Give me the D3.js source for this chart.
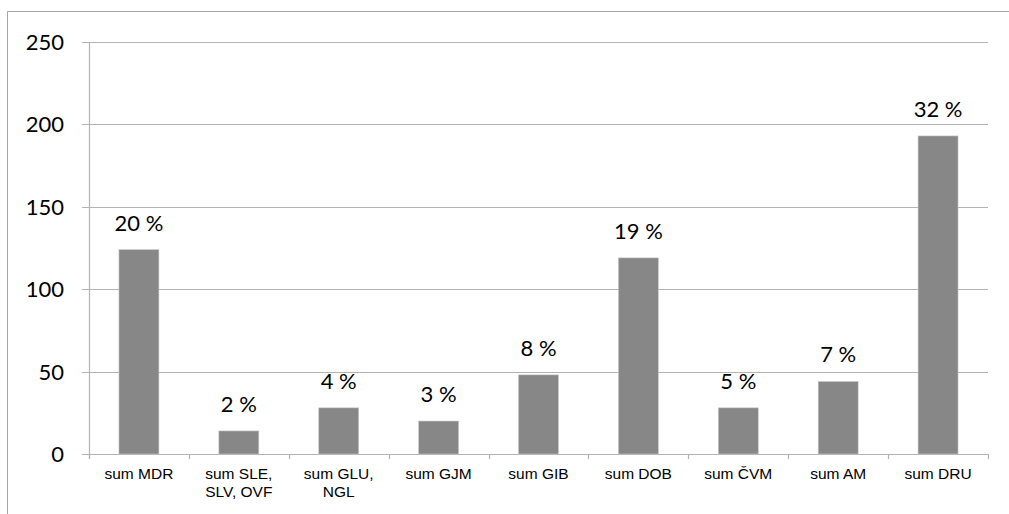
<!DOCTYPE html>
<html>
<head>
<meta charset="utf-8">
<script src="https://cdn.jsdelivr.net/npm/d3@7"></script>
<style>
  body { margin: 0; background: #fff; }
  svg { display: block; }
</style>
</head>
<body>
<div id="chart"></div>
<script>
let categories = [["sum MDR"], ["sum SLE,", "SLV, OVF"], ["sum GLU,", "NGL"], ["sum GJM"], ["sum GIB"],
                  ["sum DOB"], ["sum ČVM"], ["sum AM"], ["sum DRU"]];
let values = [124, 14, 28, 20, 48, 119, 28, 44, 193];
let percentLabels = ["20 %", "2 %", "4 %", "3 %", "8 %", "19 %", "5 %", "7 %", "32 %"];
let yTicks = [0, 50, 100, 150, 200, 250];

let W = 1009, H = 514;
let margin = {top: 42, right: 21, bottom: 60, left: 89},
    width = W - margin.left - margin.right,
    height = 454 - margin.top;

let svgRoot = d3.select("#chart")
    .append("svg")
    .attr("width", W)
    .attr("height", H);

// outer chart frame (top and left edges visible)
svgRoot.append("path")
    .attr("d", "M7.5," + H + "V11.5H" + W)
    .attr("fill", "none")
    .attr("stroke", "#a6a6a6")
    .attr("stroke-width", 1);

let svg = svgRoot.append("g")
    .attr("transform", "translate(" + margin.left + "," + margin.top + ")");

let idx = d3.range(categories.length);
let x = d3.scaleBand().domain(idx).range([0, width]).paddingInner(0.6).paddingOuter(0.3);
let y = d3.scaleLinear().domain([0, 250]).range([height, 0]);

// gridlines
svg.append("g")
    .selectAll("line")
    .data(yTicks)
    .enter().append("line")
    .attr("x1", -7)
    .attr("x2", width)
    .attr("y1", d => Math.round(y(d)) + 0.5)
    .attr("y2", d => Math.round(y(d)) + 0.5)
    .attr("stroke", "#b3b3b3")
    .attr("stroke-width", 1.2);

// y axis line
svg.append("line")
    .attr("x1", 0.5).attr("x2", 0.5)
    .attr("y1", 0).attr("y2", height + 5)
    .attr("stroke", "#b3b3b3")
    .attr("stroke-width", 1.2);

// x axis tick marks at category boundaries
svg.append("g")
    .selectAll("line")
    .data(d3.range(categories.length + 1))
    .enter().append("line")
    .attr("x1", d => Math.round(d * width / categories.length) + 0.5)
    .attr("x2", d => Math.round(d * width / categories.length) + 0.5)
    .attr("y1", height)
    .attr("y2", height + 5)
    .attr("stroke", "#b3b3b3")
    .attr("stroke-width", 1.2);

// y tick labels
svg.append("g")
    .selectAll("text")
    .data(yTicks)
    .enter().append("text")
    .attr("x", -25)
    .attr("y", d => y(d))
    .attr("dy", "0.36em")
    .attr("text-anchor", "end")
    .style("font-family", "Lato, 'Open Sans', sans-serif")
    .style("font-size", "22px")
    .style("fill", "#000")
    .text(d => d);

// bars
svg.append("g")
    .selectAll("rect")
    .data(values)
    .enter().append("rect")
    .attr("x", (d, i) => x(i))
    .attr("width", x.bandwidth())
    .attr("y", d => y(d))
    .attr("height", d => height - y(d))
    .attr("fill", "#878787")
    .attr("stroke", "#c8c8c8")
    .attr("stroke-width", 0.6);

// percent labels
svg.append("g")
    .selectAll("text")
    .data(values)
    .enter().append("text")
    .attr("x", (d, i) => x(i) + x.bandwidth() / 2)
    .attr("y", d => y(d) - 19)
    .attr("text-anchor", "middle")
    .style("font-family", "Lato, 'Open Sans', sans-serif")
    .style("font-size", "22px")
    .style("fill", "#000")
    .text((d, i) => percentLabels[i]);

// category labels
let catText = svg.append("g")
    .selectAll("text")
    .data(categories)
    .enter().append("text")
    .attr("x", (d, i) => x(i) + x.bandwidth() / 2)
    .attr("y", height + 25)
    .attr("text-anchor", "middle")
    .style("font-family", "'Liberation Sans', Arial, sans-serif")
    .style("font-size", "15.5px")
    .style("fill", "#000");

catText.selectAll("tspan")
    .data(d => d)
    .enter().append("tspan")
    .attr("x", function() { return d3.select(this.parentNode).attr("x"); })
    .attr("dy", (d, i) => i === 0 ? 0 : 18)
    .text(d => d);
</script>
</body>
</html>
